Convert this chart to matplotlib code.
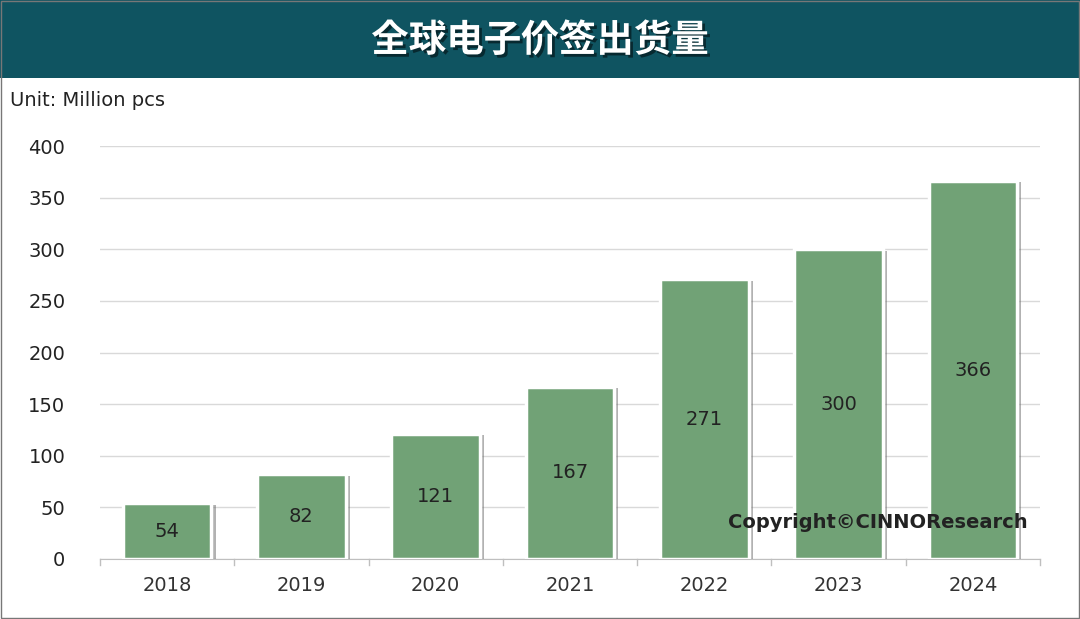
import matplotlib.pyplot as plt
import matplotlib.patheffects as pe
from matplotlib.patches import Rectangle

years = ['2018', '2019', '2020', '2021', '2022', '2023', '2024']
shipments = [54, 82, 121, 167, 271, 300, 366]

plt.rcParams['font.family'] = ['DejaVu Sans', 'Noto Sans CJK JP', 'Noto Sans CJK SC']

fig = plt.figure(figsize=(10.8, 6.19), dpi=100)
fig.patch.set_facecolor('white')

# header band
fig.patches.append(Rectangle((0, 1 - 78 / 619), 1, 78 / 619, transform=fig.transFigure,
                             facecolor='#0F5461', edgecolor='none', zorder=0))
fig.text(0.5, 1 - 40 / 619, '全球电子价签出货量', ha='center', va='center', color='white',
         fontsize=27, fontweight='bold', family=['Noto Sans CJK SC', 'Noto Sans CJK JP'],
         path_effects=[pe.withSimplePatchShadow(offset=(2, -2), shadow_rgbFace='black', alpha=0.5)])
# thin frame
fig.patches.append(Rectangle((0.001, 0.002), 0.998, 0.996, transform=fig.transFigure,
                             facecolor='none', edgecolor='#777777', lw=1))

ax = fig.add_axes([100 / 1080, 1 - 559 / 619, 940 / 1080, (559 - 146) / 619])
x = range(len(years))
ax.bar(x, shipments, width=0.66, color='#71A276', edgecolor='white', linewidth=2.5,
       zorder=3, path_effects=[pe.withSimplePatchShadow(offset=(3, -1), shadow_rgbFace='#666666', alpha=0.5)])
for xi, v in zip(x, shipments):
    ax.text(xi, v / 2, str(v), ha='center', va='center', fontsize=14, color='#222222', zorder=4)

ax.set_ylim(0, 400)
ax.set_xlim(-0.5, len(years) - 0.5)
ax.set_yticks(range(0, 401, 50))
ax.set_xticks(list(x))
ax.set_xticklabels(years)
ax.tick_params(axis='y', length=0, labelsize=14, colors='#222222', pad=25)
ax.tick_params(axis='x', length=0, labelsize=14, colors='#333333', pad=12)
ax.grid(axis='y', color='#D9D9D9', lw=1, zorder=0)
for s in ['top', 'right', 'left']:
    ax.spines[s].set_visible(False)
ax.spines['bottom'].set_color('#BFBFBF')
for b in [i - 0.5 for i in range(len(years) + 1)]:
    ax.plot([b, b], [0, -6], color='#BFBFBF', lw=1, clip_on=False)

fig.text(10 / 1080, 1 - 100 / 619, 'Unit: Million pcs', ha='left', va='center', fontsize=14, color='#222222')
fig.text(1028 / 1080, 1 - 523 / 619, 'Copyright©CINNOResearch', ha='right', va='center',
         fontsize=14, fontweight='bold', color='#222222')

fig.savefig('out.png', dpi=100)
